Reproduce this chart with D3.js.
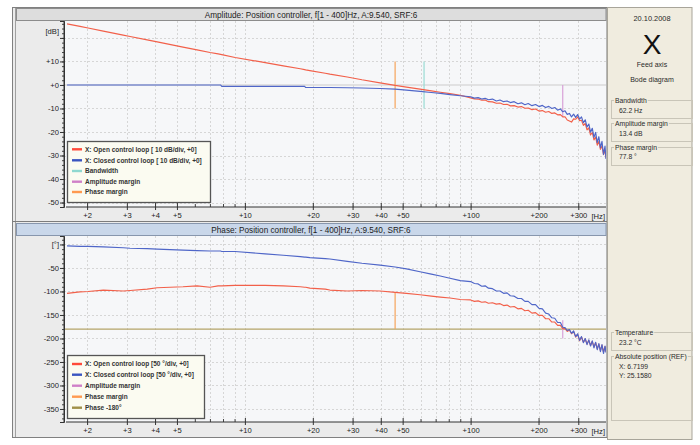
<!DOCTYPE html>
<html><head><meta charset="utf-8">
<script src="https://cdn.jsdelivr.net/npm/d3@7"></script>
<style>
body{margin:0;background:#fff;}
svg text{font-family:"Liberation Sans",Arial,sans-serif;}
</style></head>
<body><svg id="c" width="700" height="445"></svg>
<script>
// ---------------- data ----------------
const freqHz = [1.63,1.86,2.02,2.36,2.89,3.10,3.69,4.09,5.32,6.14,7.01,7.61,7.80,7.90,9.05,12.3,14.8,17.6,18.4,18.6,19.4,22.7,23.8,28.4,33.0,39.7,46.3,52.0,59.7,67.0,73.4,81.0,90.0,
 100,104,108,112,116,120,125,130,135,140,145,150,156,162,168,174,180,187,194,201,208,215,222,229,236,243,250,256,262,268,274,280,286,292,298,304,310,316,322,328,334,340,346,352,358,364,370,376,382,388,394,398];
const ampOpenDb = [26.0,24.9,24.2,22.9,21.2,20.6,19.2,18.3,16.1,14.9,13.8,13.2,13.0,12.9,11.7,9.5,8.1,6.9,6.5,6.4,6.1,5.0,4.6,3.4,2.2,0.9,-0.2,-0.9,-1.8,-2.5,-3.1,-3.7,-4.4,
 -5.5,-5.9,-6.0,-6.5,-6.4,-7.1,-7.2,-7.8,-7.7,-8.3,-8.2,-8.9,-8.8,-9.4,-9.2,-9.9,-9.8,-10.5,-10.2,-11.1,-10.9,-11.6,-11.3,-12.1,-11.9,-12.7,-12.6,-13.6,-13.5,-14.9,-15.3,-15.8,-14.4,-14.6,-13.6,-15.2,-15.0,-17.2,-16.4,-19.1,-18.2,-21.3,-20.2,-23.4,-22.1,-25.6,-24.0,-27.4,-25.9,-29.6,-27.8,-31.0];
const ampClosedDb = [0,0,0,0,0,0,0,0,0,0,0,0,0,-0.6,-0.6,-0.6,-0.6,-0.6,-0.6,-1.1,-1.1,-1.1,-1.1,-1.2,-1.3,-1.5,-1.8,-2.2,-2.7,-3.2,-3.6,-4.1,-4.6,
 -5.0,-5.6,-5.4,-6.0,-5.7,-6.3,-6.0,-6.8,-6.4,-7.1,-6.8,-7.5,-7.1,-8.0,-7.6,-8.4,-7.9,-8.8,-8.3,-9.2,-8.7,-9.6,-9.1,-10.0,-9.6,-10.7,-10.2,-11.4,-11.0,-12.5,-12.1,-13.6,-12.4,-13.8,-12.6,-14.5,-13.6,-16.0,-14.8,-17.9,-16.6,-20.1,-18.4,-22.3,-20.2,-24.5,-22.0,-26.7,-24.0,-29.5,-26.0,-31.5];
const phaseOpenDeg = [-104,-101,-100,-97,-99,-98,-95,-92,-90,-88,-91,-88,-88,-88,-87,-87,-88,-90,-91,-91,-93,-95,-97,-99,-98,-99,-102,-104,-107,-110,-112,-114,-117,
 -118,-121,-120,-123,-122,-125,-124,-127,-126,-130,-129,-133,-132,-137,-136,-141,-140,-146,-145,-151,-151,-158,-158,-165,-165,-172,-172,-179,-179,-185,-182,-190,-185,-197,-191,-205,-197,-208,-201,-212,-204,-215,-206,-218,-209,-222,-212,-226,-214,-229,-217,-228];
const phaseClosedDeg = [-3,-4,-4,-5,-7,-8,-9,-10,-12,-13,-14,-14,-14,-15,-15,-20,-23,-26,-27,-27,-28,-30,-31,-36,-40,-44,-48,-52,-58,-63,-67,-72,-77,
 -79,-83,-84,-89,-88,-93,-94,-99,-99,-104,-103,-109,-110,-115,-115,-121,-121,-128,-128,-136,-137,-146,-148,-156,-157,-166,-166,-176,-177,-183,-181,-189,-184,-196,-190,-204,-196,-209,-200,-213,-203,-216,-205,-220,-208,-224,-211,-228,-213,-232,-216,-230];

const xMajorTicks = [2,3,4,5,10,20,30,40,50,100,200,300];
const xMinorTicks = [6,7,8,9,60,70,80,90];
const ampTicks = [-50,-40,-30,-20,-10,0,10,20];
const phaseTicks = [-350,-300,-250,-200,-150,-100,-50,0];

// markers: bandwidth, amplitude margin, phase margin
const markerNames = ["Bandwidth","Amplitude margin","Phase margin"];
const markerFreqHz = [62.2, 256, 46.3];
const markerAmpSpan = [[10,-10],[0,-13.4],[10,-10]];
const markerPhaseSpan = [null,[-161,-200],[-102.2,-180]];
const phaseCritical = -180;

const ampLegend = ["X: Open control loop [ 10 dB/div, +0]","X: Closed control loop [ 10 dB/div, +0]","Bandwidth","Amplitude margin","Phase margin"];
const phaseLegend = ["X: Open control loop [50 °/div, +0]","X: Closed control loop [50 °/div, +0]","Amplitude margin","Phase margin","Phase -180°"];

const ampTitle = "Amplitude: Position controller, f[1 - 400]Hz, A:9.540, SRF:6";
const phaseTitle = "Phase: Position controller, f[1 - 400]Hz, A:9.540, SRF:6";
const infoHeader = ["20.10.2008","X","Feed axis","Bode diagram"];
const infoBoxes = [["Bandwidth","62.2 Hz"],["Amplitude margin","13.4 dB"],["Phase margin","77.8 °"]];
const infoBoxesBottom = [["Temperature","23.2 °C"],["Absolute position (REF)","X: 6.7199","Y: 25.1580"]];

// ---------------- styles ----------------
const C = {red:"#f2604a", blue:"#4f66c8", cyan:"#9adcd4", pink:"#d8a0d8", orange:"#f6a45c", olive:"#b4a468"};
const ampLegendColors = ["#ff4a3a","#3a55c0","#8fd8d0","#d080c8","#ff9a50"];
const phaseLegendColors = ["#ff4a3a","#3a55c0","#d080c8","#ff9a50","#a09048"];
const markerColors = [C.cyan, C.pink, C.orange];
const PANEL_BG = "#f0ecdf";

const svg = d3.select("#c");
const X0 = 64, X1 = 606;
const x = d3.scaleLog().domain([1.58, 398]).range([X0, X1]);
const A = {top:21, bot:207};
const P = {top:236, bot:422};
const yAmp = d3.scaleLinear().domain([-51.9, 27.2]).range([A.bot, A.top]);
const yPh = d3.scaleLinear().domain([-377.7, 18]).range([P.bot, P.top]);

// outer frame
svg.append("rect").attr("x",12.5).attr("y",7.5).attr("width",594.5).attr("height",430).attr("fill","#ebebeb").attr("stroke","#808080");
svg.append("line").attr("x1",15.5).attr("x2",15.5).attr("y1",8).attr("y2",437).attr("stroke","#a0a0a0");

// right info panel
svg.append("rect").attr("x",607.5).attr("y",7.5).attr("width",84.5).attr("height",432).attr("fill",PANEL_BG).attr("stroke","#a8a59a");

function panel(top, bot, title, barFill, barStroke) {
  svg.append("rect").attr("x",16.5).attr("y",top-12.5).attr("width",589.5).attr("height",12).attr("fill",barFill).attr("stroke",barStroke);
  svg.append("text").attr("x",311).attr("y",top-3.5).attr("text-anchor","middle").attr("font-size",8.2).attr("fill","#222").text(title);
  svg.append("rect").attr("x",X0).attr("y",top).attr("width",X1-X0).attr("height",bot-top).attr("fill","#f6f7f9");
  const g = svg.append("g");
  g.selectAll("line.v").data(xMajorTicks.concat(xMinorTicks)).join("line")
    .attr("x1",d=>Math.round(x(d))+0.5).attr("x2",d=>Math.round(x(d))+0.5)
    .attr("y1",top).attr("y2",bot).attr("stroke","#d6d6d6").attr("stroke-dasharray","2,2");
  return g;
}

// ---- Amplitude panel ----
const gA = panel(A.top, A.bot, ampTitle, "#dddddd", "#8c8c8c");
gA.selectAll("line.h").data(ampTicks.filter(d=>d!==0)).join("line")
  .attr("x1",X0).attr("x2",X1).attr("y1",d=>Math.round(yAmp(d))+0.5).attr("y2",d=>Math.round(yAmp(d))+0.5)
  .attr("stroke","#d6d6d6").attr("stroke-dasharray","2,2");
svg.append("line").attr("x1",X0).attr("x2",X1).attr("y1",yAmp(0)).attr("y2",yAmp(0)).attr("stroke","#dadada").attr("stroke-width",1.6);

// ---- Phase panel ----
svg.append("line").attr("x1",13).attr("x2",607).attr("y1",221.5).attr("y2",221.5).attr("stroke","#7c7c7c");
const gP = panel(P.top, P.bot, phaseTitle, "#c9d7ea", "#8796ad");
gP.selectAll("line.h").data(phaseTicks).join("line")
  .attr("x1",X0).attr("x2",X1).attr("y1",d=>Math.round(yPh(d))+0.5).attr("y2",d=>Math.round(yPh(d))+0.5)
  .attr("stroke","#d6d6d6").attr("stroke-dasharray","2,2");

const defs = svg.append("defs");
defs.append("clipPath").attr("id","clipA").append("rect").attr("x",X0).attr("y",A.top).attr("width",X1-X0).attr("height",A.bot-A.top);
defs.append("clipPath").attr("id","clipP").append("rect").attr("x",X0).attr("y",P.top).attr("width",X1-X0).attr("height",P.bot-P.top);

svg.append("line").attr("x1",X0).attr("x2",X1).attr("y1",yPh(phaseCritical)).attr("y2",yPh(phaseCritical)).attr("stroke",C.olive).attr("stroke-width",1.2);

const cA = svg.append("g").attr("clip-path","url(#clipA)");
const cP = svg.append("g").attr("clip-path","url(#clipP)");
markerFreqHz.forEach((f,i)=>{
  const s = markerAmpSpan[i];
  cA.append("line").attr("x1",x(f)).attr("x2",x(f)).attr("y1",yAmp(s[0])).attr("y2",yAmp(s[1])).attr("stroke",markerColors[i]).attr("stroke-width",1.2);
  const p = markerPhaseSpan[i];
  if (p) cP.append("line").attr("x1",x(f)).attr("x2",x(f)).attr("y1",yPh(p[0])).attr("y2",yPh(p[1])).attr("stroke",markerColors[i]).attr("stroke-width",1.2);
});

function curve(g, vals, yS, color) {
  const line = d3.line().x((d,i)=>x(freqHz[i])).y(d=>yS(d));
  g.append("path").datum(vals).attr("d",line).attr("fill","none").attr("stroke",color).attr("stroke-width",1.15).attr("stroke-linejoin","round");
}
curve(cA, ampOpenDb, yAmp, C.red);
curve(cA, ampClosedDb, yAmp, C.blue);
curve(cP, phaseOpenDeg, yPh, C.red);
curve(cP, phaseClosedDeg, yPh, C.blue);

function styleAxis(g){
  g.select(".domain").attr("stroke","#333");
  g.selectAll(".tick line").attr("stroke","#333");
  g.selectAll(".tick text").attr("font-size",7.6).attr("fill","#222").attr("font-family",'"Liberation Sans",Arial,sans-serif');
}
function yAxes(yS, major, minorStep, fmt, dom){
  const gm = svg.append("g").attr("transform",`translate(${X0},0)`)
    .call(d3.axisLeft(yS).tickValues(d3.range(dom[0], dom[1]+0.1, minorStep)).tickSize(2).tickFormat(""));
  gm.select(".domain").remove(); gm.selectAll(".tick line").attr("stroke","#444");
  const g = svg.append("g").attr("transform",`translate(${X0},0)`)
    .call(d3.axisLeft(yS).tickValues(major).tickSize(4).tickPadding(1).tickFormat(fmt));
  styleAxis(g);
}
yAxes(yAmp, ampTicks, 2, d=> d===20 ? "" : (d>=0?"+":"")+d, [-50,26]);
svg.append("text").attr("x",59).attr("y",33.5).attr("text-anchor","end").attr("font-size",7.6).attr("fill","#222").text("[dB]");
yAxes(yPh, phaseTicks, 10, d=> d===0 ? "[°]" : String(d), [-370,10]);

function xAxis(yPos){
  const gm = svg.append("g").attr("transform",`translate(0,${yPos})`)
    .call(d3.axisBottom(x).tickValues(xMinorTicks).tickSize(0).tickFormat(""));
  gm.select(".domain").remove();
  gm.selectAll(".tick line").attr("y1",-3).attr("y2",0).attr("stroke","#444");
  const g = svg.append("g").attr("transform",`translate(0,${yPos})`)
    .call(d3.axisBottom(x).tickValues(xMajorTicks).tickSize(3).tickPadding(3).tickFormat(d=>"+"+d));
  styleAxis(g);
  g.select(".domain").attr("d",`M${X0+2},0H${X1}`);
  g.selectAll(".tick line").attr("y1",-4).attr("y2",3);
  svg.append("text").attr("x",605).attr("y",yPos+11.5).attr("text-anchor","end").attr("font-size",7.6).attr("fill","#222").text("[Hz]");
}
xAxis(A.bot);
xAxis(P.bot);
svg.append("line").attr("x1",X0).attr("x2",X0).attr("y1",A.top).attr("y2",A.bot).attr("stroke","#333");
svg.append("line").attr("x1",X0).attr("x2",X0).attr("y1",P.top).attr("y2",P.bot).attr("stroke","#333");

function legend(x0,y0,w,h,items,colors,rowY){
  const g = svg.append("g");
  g.append("rect").attr("x",x0+0.5).attr("y",y0+0.5).attr("width",w).attr("height",h).attr("fill","#fbfbf1").attr("stroke","#555").attr("stroke-width",1.3);
  items.forEach((t,i)=>{
    const yy = rowY[i];
    g.append("line").attr("x1",x0+5).attr("x2",x0+15).attr("y1",yy).attr("y2",yy).attr("stroke",colors[i]).attr("stroke-width",2.4);
    g.append("text").attr("x",x0+18).attr("y",yy+2.3).attr("font-size",6.5).attr("font-weight","bold").attr("fill","#333").text(t);
  });
}
legend(67,141,143,61,ampLegend,ampLegendColors,[149.3,160.3,171,181.7,192]);
legend(67,355,137,63,phaseLegend,phaseLegendColors,[364,374.7,385.7,396.7,407.7]);

// info panel
const ip = svg.append("g").attr("fill","#2a2a2a");
ip.append("text").attr("x",652).attr("y",21).attr("text-anchor","middle").attr("font-size",7.4).text(infoHeader[0]);
ip.append("text").attr("x",652).attr("y",53.5).attr("text-anchor","middle").attr("font-size",28).attr("fill","#111").text(infoHeader[1]);
ip.append("text").attr("x",652).attr("y",66.5).attr("text-anchor","middle").attr("font-size",7).text(infoHeader[2]);
ip.append("text").attr("x",652).attr("y",81.5).attr("text-anchor","middle").attr("font-size",7).text(infoHeader[3]);
function box(y0,h,lines,lineY){
  ip.append("rect").attr("x",611.5).attr("y",y0+0.5).attr("width",81).attr("height",h).attr("fill","none").attr("stroke","#c9c5b8");
  lines.forEach((t,i)=>{
    if (i===0) {
      const bg = ip.append("rect").attr("y",y0-3).attr("height",7).attr("fill",PANEL_BG);
      const tx = ip.append("text").attr("x",615).attr("y",lineY[i]+2.5).attr("font-size",6.8).text(t);
      const w = tx.node().getComputedTextLength();
      bg.attr("x",614).attr("width",w+2);
    } else {
      ip.append("text").attr("x",619).attr("y",lineY[i]+2.5).attr("font-size",6.8).text(t);
    }
  });
}
box(100,18,infoBoxes[0],[100,110]);
box(123,18,infoBoxes[1],[123,133]);
box(147,18,infoBoxes[2],[147,156]);
box(332,18,infoBoxesBottom[0],[332,342.5]);
box(356,64,infoBoxesBottom[1],[356,366,375.5]);
</script></body></html>
